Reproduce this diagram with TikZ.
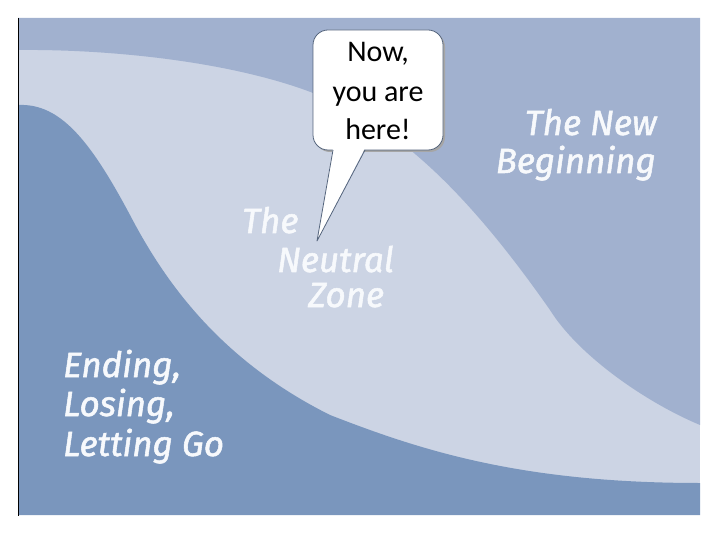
\documentclass[tikz,border=0pt]{standalone}
\usepackage{fontspec}
\newfontfamily\bubfont{Carlito}
\newfontfamily\labfont{Fira Sans}[ItalicFeatures={FakeBold=1.5}]
\definecolor{topband}{HTML}{A1B1CF}
\definecolor{midband}{HTML}{CCD4E4}
\definecolor{lowband}{HTML}{7A96BD}
\definecolor{labwhite}{HTML}{F7F9FC}
\definecolor{bubedge}{HTML}{55657D}
\begin{document}
\begin{tikzpicture}[x=1bp,y=-1bp,
  lab/.style={font=\labfont\itshape\fontsize{35bp}{38bp}\selectfont, text=labwhite, inner sep=0pt},
  bub/.style={font=\bubfont\fontsize{30bp}{39bp}\selectfont, inner sep=0pt}]
\useasboundingbox (0,0) rectangle (720,540);
% panel
\fill[midband] (18,18) rectangle (700,515);
\fill[topband] (18,18) -- (700,18) -- (700,425)
  .. controls (645,402) and (578,355) .. (550,310)
  .. controls (480,210) and (410,134) .. (330,100)
  .. controls (250,64) and (120,49) .. (18,50) -- cycle;
\fill[lowband] (18,515) -- (18,105)
  .. controls (60,103) and (90,140) .. (130,215)
  .. controls (165,282) and (220,360) .. (330,415)
  .. controls (420,450) and (520,483) .. (700,483)
  -- (700,515) -- cycle;
\draw[line width=1.5bp] (18.5,18) -- (18.5,516);
% labels
\node[lab, anchor=base east] (new1) at (657,135) {The New};
\node[lab, anchor=base east] (new2) at (656,173) {Beginning};
\node[lab, anchor=base west] (n1) at (242,233) {The};
\node[lab, anchor=base west] (n2) at (277,272) {Neutral};
\node[lab, anchor=base west] (n3) at (308,307) {Zone};
\node[lab, anchor=base west] (e1) at (63,377) {Ending,};
\node[lab, anchor=base west] (e2) at (63,416) {Losing,};
\node[lab, anchor=base west] (e3) at (63,456) {Letting Go};
% bubble
\fill[black!35, rounded corners=15bp] (315,32) rectangle (445,152);
\node[draw=bubedge, fill=white, rounded corners=15bp, minimum width=130bp, minimum height=120bp, line width=0.8bp, inner sep=0pt] (bubble) at (378,90) {};
\coordinate (tip) at (317,241);
\coordinate (tl) at (333,150);
\coordinate (tr) at (365,150);
\fill[white] (333,148) -- (tip) -- (365,148) -- cycle;
\draw[bubedge, line width=0.8bp, line join=round] (tl) -- (tip) -- (tr);
\node[bub, anchor=base] (now) at (378,62) {Now,};
\node[bub, anchor=base] (you) at (378,102) {you are};
\node[bub, anchor=base] (here) at (378,140) {here!};
\end{tikzpicture}
\end{document}
